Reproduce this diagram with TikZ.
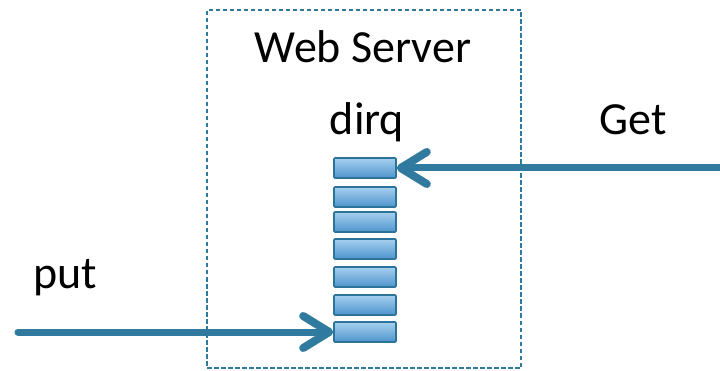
\documentclass[tikz,border=0pt]{standalone}
\usepackage{fontspec}
\setmainfont{Carlito}
\definecolor{arrowblue}{HTML}{2F7A9E}
\definecolor{boxtop}{HTML}{A6D0F0}
\definecolor{boxbot}{HTML}{4E94CC}
\definecolor{boxedge}{HTML}{2B7399}
\tikzset{
  qbox/.style={draw=boxedge, line width=1.6pt, top color=boxtop, bottom color=boxbot,
    minimum width=62pt, minimum height=20pt, inner sep=0pt, rounded corners=1pt},
  bigarrow/.style={draw=arrowblue, line width=7pt, line cap=round, line join=round},
  barb/.style={bigarrow, line width=8pt},
  lbl/.style={font=\fontsize{46}{52}\selectfont, inner sep=0pt, anchor=base},
}
\begin{document}
\begin{tikzpicture}[x=1pt,y=-1pt]
\useasboundingbox (0,0) rectangle (720,371);
\fill[white] (0,0) rectangle (720,371);
\node[draw=arrowblue, dashed, line width=1.1pt, dash pattern=on 4.5pt off 2.5pt,
  minimum width=314pt, minimum height=358pt, inner sep=0pt] (server) at (364,189) {};
\node[lbl] (title) at (363,63) {Web Server};
\node[lbl] (dirq) at (367,135) {dirq};
\node[lbl] (get) at (633,135) {Get};
\node[lbl] (put) at (65,289) {put};
\foreach \i/\y in {1/168,2/197,3/222,4/249,5/277,6/305,7/332}{
  \node[qbox] (q\i) at (365,\y) {};
}
\coordinate (getstart) at (726,168);
\coordinate (putstart) at (18,332);
\draw[bigarrow] (getstart) -- ([xshift=4pt]q1.east);
\draw[barb] ([shift={(30,-16)}]q1.east) -- ([xshift=4pt]q1.east) -- ([shift={(30,16)}]q1.east);
\draw[bigarrow] (putstart) -- ([xshift=-4pt]q7.west);
\draw[barb] ([shift={(-30,-16)}]q7.west) -- ([xshift=-4pt]q7.west) -- ([shift={(-30,16)}]q7.west);
\end{tikzpicture}
\end{document}
